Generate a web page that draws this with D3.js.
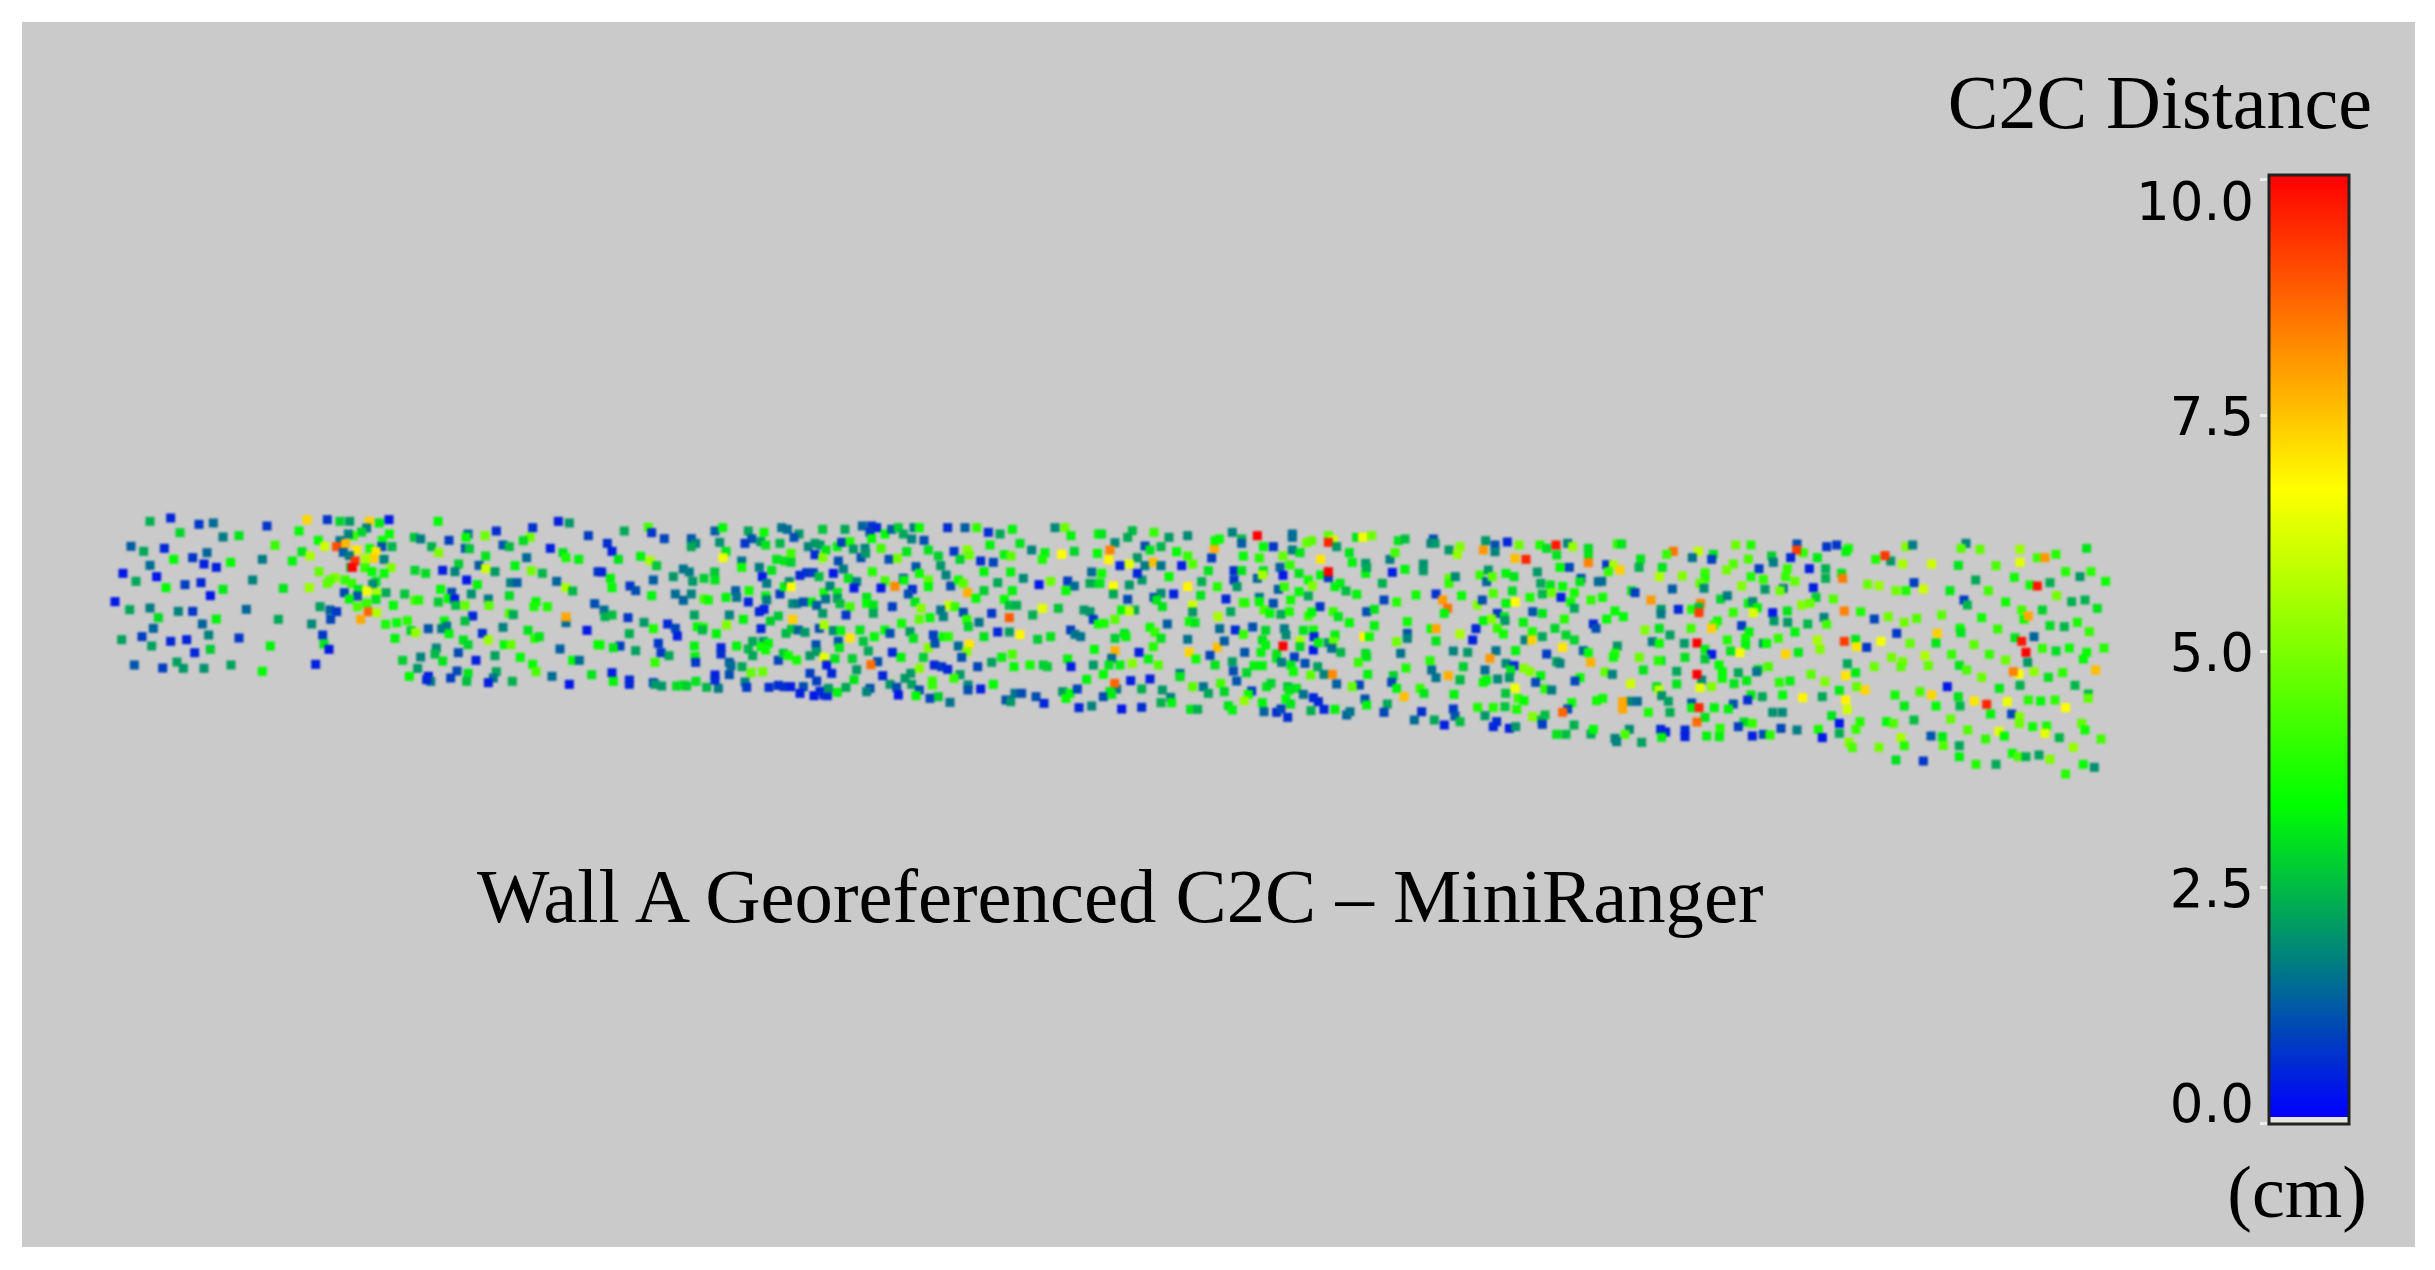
<!DOCTYPE html>
<html>
<head>
<meta charset="utf-8">
<script src="https://cdn.jsdelivr.net/npm/d3@7"></script>
<style>
  html, body { margin: 0; padding: 0; background: #fff; }
  svg { display: block; }
</style>
</head>
<body>
<script>
// Each point is [along, up, C2C in cm], one list per stretch of wall
var wallSeg1 = [[150,64,2.3],[212,54,0.5],[297,73,0.7],[340,69,1.4],[240,98,2.8],[369,111,1.6],[417,107,3],[501,78,0.7],[93,139,1.2],[131,154,2.2],[193,145,0.5],[321,158,1.3],[278,173,0.7],[221,178,3.3],[312,192,0.4],[349,202,0.4],[392,187,3.3],[487,178,1.6],[150,196,1.4],[69,220,0.3],[170,230,0.3],[108,244,2.2],[303,248,0.5],[255,254,0.8],[198,263,3.3],[369,268,3.1],[331,287,0.3],[458,240,1.7],[45,305,0.3],[89,329,2.2],[150,324,1.6],[235,334,1.7],[278,334,0.7],[439,328,1.3],[175,353,2.9],[349,357,3.2],[535,358,2.2],[307,372,1.3],[160,385,1.3],[126,410,0.8],[65,419,2.1],[326,405,1.7],[417,414,0.7],[212,424,0.5],[260,419,0.4],[155,438,2.1],[331,448,2.7],[284,458,0.5],[511,438,3.2],[103,495,1.1],[188,504,0.8],[231,486,2.1],[250,505,2],[312,505,1.9],[393,495,2.1],[487,514,3.3],
[621,59,7.2],[682,59,0.7],[720,64,2.8],[749,64,2],[808,64,7.3],[838,69,3.1],[867,59,0.3],[597,93,3.3],[525,136,4],[655,121,3.4],[800,84,1.6],[785,96,2.8],[760,107,4],[745,102,1.7],[868,102,3.4],[847,121,3.4],[720,122,1.5],[737,131,7.6],[710,140,9],[674,139,6],[770,150,7],[606,155,3],[630,168,5.5],[577,183,3.2],[730,157,1.2],[748,167,1.6],[845,140,1],[876,140,2.4],[810,145,3.6],[828,155,7],[820,175,7.3],[797,175,5.5],[852,178,1.7],[765,183,9.3],[752,202,2.5],[757,202,10],[795,203,4],[873,203,5],[816,215,3.3],[852,220,3.4],[657,215,4.6],[705,233,5],[690,240,4.5],[682,250,4.5],[735,240,4],[828,245,3],[818,252,1.8],[755,250,4],[628,263,5.3],[550,265,3],[733,278,0.9],[775,268,3],[858,278,2.2],[800,273,6.5],[830,278,5.5],[772,288,1],[748,297,3.2],[800,310,4],[828,298,3],[660,320,2.1],[690,330,1.2],[710,335,0.7],[772,320,4.3],[880,316,3.3],[805,335,8.7],[830,338,5.6],[692,358,0.9],[782,358,7.8],[635,372,1.8],[668,405,0.7],[672,432,3],[687,448,0.3],[647,493,0.4],
[1014,64,3.3],[943,112,2.6],[962,117,1.6],[995,140,2.3],[1016,158,5],[1047,121,0.8],[1104,102,1.3],[1098,112,3.3],[1189,93,0.6],[1155,107,4.8],[1298,83,0.6],[1375,64,0.4],[1408,69,2],[1465,107,0.8],[1290,112,4.7],[1270,122,2.9],[1209,135,1.1],[1228,140,2.5],[1096,145,1.1],[1108,146,2.6],[1351,145,0.4],[1389,158,3],[1398,173,3.6],[1436,178,3.2],[1157,168,3],[1280,173,1.4],[1076,192,2.7],[1137,196,1.2],[1157,206,6],[1185,215,2],[1245,197,3.2],[1294,212,4.8],[1327,220,2.4],[1494,215,0.7],[945,211,2.8],[977,220,2.9],[1028,211,0.4],[1065,215,1.7],[1100,240,0.3],[1132,254,3.2],[1232,248,1.7],[1251,248,1.2],[1370,244,1.3],[1398,263,5.5],[1418,273,2.4],[1022,268,3.3],[1055,277,1],[914,282,2.6],[1114,282,1.9],[945,301,4.2],[956,300,3.7],[1015,306,2.7],[1045,296,3.3],[1064,297,0.3],[1165,297,1.6],[1228,287,2.9],[1067,316,2.5],[1095,316,4.6],[1167,316,4.5],[1308,305,3.3],[1302,320,3.6],[1342,320,3.7],[1484,311,1],[1118,348,0.5],[1228,340,4.3],[1240,344,2.2],[1398,368,1.4],[1398,351,7.8],[1033,363,3.3],[1095,363,2.5],[922,362,3.8],[857,373,3.6],[890,368,3.4],[985,386,1.1],[1025,386,1.6],[1040,378,1.5],[1209,382,1.7],[1284,391,3],[1461,391,0.3],[933,392,2.8],[947,398,5.3],[1047,401,3.2],[1147,400,0.6],[885,415,3.2],[1090,420,3],[1165,420,5.3],[1104,434,2.8],[1213,434,3.3],[1233,434,4.6],[1304,415,3.8],[1318,410,3],[1494,434,3.3],[1380,447,1.2],[1009,444,1.8],[1005,462,2.4],[1075,458,1],[962,471,1.7],[1185,467,2.1],[1261,472,3.3],[1128,481,0.4],[908,481,2.7],[1028,483,3],[1418,481,3.3],[1438,481,1.4],[1298,493,3.4],[953,505,2],[1308,515,4.3],[1189,515,2.2],[1071,513,1],[1104,520,3],[928,529,3.3],[985,529,0.4],[1052,534,0.8],[1180,534,1.5],[1356,529,1.4],[1475,524,3],[992,544,1.6],[980,539,0.5],[1100,544,2.5],[1165,548,0.4],[1237,544,2.3],[1408,553,0.3]];

var wallSeg2 = [[73,93,2.2],[145,82,4.2],[155,98,0.7],[193,116,0.9],[22,130,0.6],[36,154,0.4],[55,178,3],[122,169,3.2],[150,182,5.5],[170,197,2.6],[5,216,0.5],[31,235,3.2],[36,263,3.3],[90,258,0.7],[107,272,1],[160,240,1.2],[155,287,3.2],[220,230,2],[250,207,1.5],[268,216,1.6],[278,244,2],[312,235,2.7],[344,216,2.6],[345,240,3],[226,282,1.4],[250,301,1.3],[274,282,1.7],[312,297,4.2],[325,300,3.5],[378,292,3.2],[274,116,1.1],[287,130,1.7],[274,140,2.2],[345,93,1.2],[368,83,3.3],[359,127,1.9],[378,154,3],[369,173,6.5],[445,93,2.2],[492,97,3.5],[455,116,1.1],[435,130,0.7],[482,125,2],[497,135,3],[540,130,2.4],[545,83,1.5],[562,88,1.4],[597,102,2],[582,112,1],[668,88,2.6],[735,88,2.2],[787,78,1.3],[815,78,0.7],[830,83,0.5],[810,97,0.7],[815,116,3.4],[855,102,3.3],[875,88,1.2],[895,83,2.7],[910,102,2.2],[935,117,1.7],[942,83,1.6],[958,83,3.5],[972,121,1],[1043,83,0.6],[1095,83,1.2],[1130,83,4],[1165,97,0.6],[1200,102,2.2],[1237,88,3.2],[1365,83,1.8],[1395,83,4.7],[1413,107,3.2],[1495,102,3.3],
[625,140,1.7],[645,130,2],[660,135,2],[645,164,0.5],[678,150,3],[668,173,5],[712,140,3.2],[725,127,0.8],[750,125,3.7],[760,147,2],[795,145,1.7],[783,173,1],[797,160,2],[843,145,4.2],[867,178,1],[892,175,4.8],[920,155,3],[985,150,3],[1015,168,2.7],[1062,154,0.7],[1080,178,2.8],[1102,150,5],[1108,165,4.7],[1142,183,0.6],[1180,187,0.9],[1170,135,3.2],[1260,130,3],[1213,164,3.2],[1233,168,4.5],[1295,150,1.7],[1335,158,3.2],[1327,178,3.6],[1385,163,6.7],[1423,154,2.8],[1492,160,3.3],
[425,183,1.5],[425,202,3.5],[478,202,1.6],[515,211,3],[530,178,3],[555,183,3],[573,160,4.2],[573,187,2.7],[715,183,1],[730,207,1.6],[487,230,0.3],[500,250,1.6],[600,226,0.5],[620,218,0.6],[640,218,0.8],[657,230,2.5],[700,220,0.3],[745,235,3],[770,245,1.7],[817,215,3.8],[855,243,4.2],[885,259,8.2],[910,235,0.8],[912,240,3.2],[762,264,0.3],[843,264,0.3],[937,268,0.6],[925,282,1],[948,200,1.1],[958,220,3.5],[985,240,4.5],[985,260,3.3],[1022,197,2],[1038,225,1.7],[1052,258,1],[1075,240,3.5],[1090,250,4.5],[1103,278,7.7],[1128,295,3.3],[1152,215,3.2],[1152,272,2.7],[1193,248,2.2],[1232,216,3.2],[1237,272,3.2],[1270,235,1.8],[1317,254,0.3],[1352,244,4.7],[1403,243,0.8],[1423,258,1.4],[1398,272,3.4],[1475,216,1.4],[1470,250,2.2],[1495,250,2.7],
[407,272,1.2],[410,292,1.5],[447,272,3.5],[445,306,0.5],[497,288,3.2],[500,300,1.6],[540,282,0.8],[553,260,3.2],[568,245,1.8],[573,260,6.7],[672,278,3.6],[690,258,1.7],[712,278,3.1],[712,295,2],[677,297,1.5],[800,292,3],[800,310,3.3],[820,315,3],[635,306,3.2],[578,311,1.8],[590,311,1.6],[610,306,1],[650,316,1.2],[720,311,2.5],[750,320,4.2],[945,306,3],[963,325,5],[877,320,0.8],[820,340,2.2],[738,345,0.7],[668,340,2],[1047,316,6],[1065,320,4],[1022,330,1.5],[1030,350,1.7],[1090,337,1],[1175,340,0.7],[1213,298,3.4],[1228,316,2.5],[1250,316,2.3],[1228,353,8.8],[1298,345,2.3],[1327,325,6.3],[1375,325,2.6],[1452,330,2],[1470,335,2],[1480,358,0.7],[1495,372,3.5],
[12,330,1.4],[15,350,2.3],[36,345,2.5],[84,353,0.7],[132,367,2],[160,386,3.7],[203,372,0.5],[226,385,0.9],[232,408,0.4],[283,345,2.1],[292,380,3.3],[310,382,3.7],[307,390,2.4],[349,401,3.2],[380,375,5],[388,345,1.7],[430,358,3.2],[478,335,0.5],[492,328,0.4],[511,363,2.7],[535,348,2.6],[578,358,7.3],[483,386,0.5],[88,401,2.3],[175,430,0.7],[183,458,0.7],[207,467,2.2],[107,452,2.1],[60,438,0.8],[40,443,3],[0,435,3.4],[283,438,3.2],[285,470,3.2],[287,487,0.7],[165,487,4],[363,443,0.5],[363,462,0.6],[410,438,3.2],[445,447,2.4],[458,424,2.2],[458,467,2.2],[490,424,2],[483,440,3.5],[505,430,3.2],[497,450,3.5],[388,487,1.2],[393,497,1.4],[426,500,2.2],[535,481,0.9],[550,460,2.6],[565,467,3.5],[590,480,3.6],[630,467,2],[648,434,1],[650,455,2],[672,472,6.3],[680,495,0.4],[695,520,0.5],[558,400,2.4],[575,388,2.6],[595,390,1.3],[615,397,2],[658,385,1],[672,375,5.5],[700,392,1.8],[722,392,3.2],[750,414,7],[780,390,3],[790,424,2.6],[805,453,2.2],[715,424,1],[718,443,3],[705,476,3],[757,476,2.7],[823,410,3.3],[855,390,3.3],[870,400,1],[905,370,3.5],[930,395,2],[940,415,3],[877,457,0.5],[903,472,3.2],[970,472,2.7],[985,443,5],[958,358,4.5],[990,353,3.3],[1000,405,0.8],[1005,430,1],[1030,410,3.3],[1045,410,3.8],[1075,438,1.4],[1108,433,7],[1100,455,5],[1100,358,3.8],[1105,380,2.8],[1137,367,1.5],[1085,472,1],[1152,410,3],[1193,396,0.5],[1228,396,2.1],[1260,404,6.8],[1313,418,2.7],[1352,410,3],[1412,390,0.8],[1425,403,1.5],[1442,410,1.5],[1483,448,3.3],[1237,463,4.3],[1205,472,3.2],[1175,487,2.1],[1133,500,0.9],[1242,500,3.3],[1290,495,3.5],[1330,495,2.7],[1342,500,2.7],[1403,477,3.2],[1413,500,0.4],[1480,495,2],[833,485,1],[813,494,8.6],[36,518,0.4],[40,544,3.2],[88,540,0.5],[88,553,0.5],[160,548,0.7],[165,553,2],[185,558,2],[230,558,2.9],[250,555,3],[260,558,2.7],[288,544,3],[320,562,2.4],[355,565,1.6],[345,525,0.4],[345,540,0.5],[388,524,1],[435,546,1.7],[440,562,0.7],[453,518,4.6],[488,515,4.7],[507,562,0.6],[535,556,0.6],[552,560,0.6],[572,560,0.4],[610,560,1],[600,580,0.4],[630,520,0.8],[650,543,0.8],[642,587,0.3],[660,574,0.5],[672,585,0.5],[682,587,0.5],[685,565,2],[712,577,3.2],[738,562,2.2],[762,539,3],[770,509,2],[848,527,0.5],[810,565,1],[800,575,1.7],[870,553,2],[890,562,1],[895,585,0.3],[915,535,2],[932,520,2],[935,553,2.1],[958,570,1],[948,587,3.3],[958,505,5],[997,543,4],[997,555,4],[990,595,0.9],[1015,590,2.7],[1003,495,0.5],[1025,500,0.7],[1043,508,0.5],[1080,524,2],[1062,535,4],[1104,555,1.8],[1104,570,1],[1142,567,0.4],[1050,607,1.5],[1180,553,3.3],[1218,600,1],[1232,605,2],[1245,580,1.5],[1265,580,1],[1308,590,1],[1332,610,0.5],[1388,575,2],[1410,580,3.3],[1398,595,3.4],[1432,567,0.9],[1437,623,0.5],[1475,618,1.7],[1460,538,3.2]];

var wallSeg3 = [[5,72,3],[97,62,2.5],[83,82,2.2],[45,98,1.8],[162,67,4],[207,82,2],[263,77,1.8],[30,120,8.3],[135,108,1],[150,120,3],[183,110,2.4],[230,125,3.3],[263,138,4],[278,162,4.4],[112,143,2],[26,149,6.8],[60,167,0.5],[88,162,6.3],[135,167,1.6],[160,157,7.5],[183,167,1.5],[245,167,0.4],[335,144,0.8],[343,116,7.7],[345,92,3.4],[358,87,3.4],[397,67,1.7],[425,87,2.4],[425,100,1.2],[472,77,10],[520,110,0.7],[490,110,3.3],[577,72,1.4],[577,82,1.4],[577,120,1.6],[600,128,3],[620,98,4.7],[635,92,4.5],[685,77,4.5],[700,90,6],[685,97,9.5],[710,110,2],[770,82,3],[788,82,6.5],[815,77,4.8],[895,92,3],[915,87,2.5],[1000,87,1],[993,100,1.7],[1005,100,2],[1047,120,2],[1080,110,5],[1072,133,5.3],[1150,120,8],[1157,92,2],[1185,105,1],[1185,125,1.7],[1222,96,0.5],[1257,105,4.7],[1320,105,3.7],[1340,115,2.9],[1368,105,9.7],[1403,100,1.7],[1418,110,5.3],[1465,115,2.9],[1465,135,3],[1465,158,8.3],[1245,145,7.5],[1278,148,9.5],
[325,182,3],[305,215,2.3],[352,230,3.8],[402,182,0.6],[425,182,3],[430,138,3.3],[478,144,3.8],[490,182,3],[472,205,1.3],[487,195,5.5],[402,210,0.7],[411,230,2],[207,200,3.3],[126,210,2],[112,190,0.5],[88,225,2],[40,228,6.7],[5,190,3.5],[0,220,3],[263,230,6.8],[40,252,2.2],[83,268,1],[162,262,1],[183,250,1.8],[221,252,0.4],[170,270,3],[187,290,3],[302,256,3],[378,267,0.5],[430,278,4],[478,262,1.5],[478,275,3.3],[520,280,1],[535,238,1.2],[540,172,1.3],[549,138,4.6],[570,165,4],[549,196,0.3],[597,190,3],[625,210,3.5],[637,228,5],[662,148,7],[662,195,3.2],[685,203,0.7],[685,185,10],[720,220,3.1],[705,230,3.2],[738,243,2.5],[770,253,3.2],[748,128,3],[757,157,3.2],[797,160,2],[797,190,3.2],[800,172,2.2],[847,220,2.3],[870,148,1.6],[877,187,0.4],[885,128,4.2],[915,178,3.2],[970,162,1.9],[970,182,2],[553,230,4],[597,245,3.3],[625,258,2.2],[572,270,3.5],[660,290,0.7],[700,305,4],[852,270,0.9],[890,276,3.8],[948,255,3.5],[1008,252,0.6],[1028,270,8],[1043,295,8.5],[1033,310,3.2],[1085,257,3.4],[1047,205,4.5],[1047,220,4],[1066,200,1.8],[1132,285,5],[1147,270,1],[1140,195,4],[1165,180,2],[1160,215,1.3],[1177,200,4.5],[1180,250,4.3],[1218,190,3.2],[1242,200,3],[1237,243,2.9],[1218,280,3.2],[1246,276,6.7],[1290,262,3.6],[1312,186,2],[1322,220,2.2],[1351,225,3],[1327,252,2.4],[1355,248,4.7],[1388,229,3.4],[1408,172,0.9],[1380,172,3.3],[1370,135,3],[1443,205,1],[1440,215,3],[1495,215,1.4],[1423,248,3.6],[1383,262,0.4],[1412,276,3.5],[1423,295,2.2],[1473,270,3.9],[1298,305,1.1],[1327,310,3],[1192,310,0.7],[1213,320,3],
[65,300,3.3],[104,300,2.2],[88,303,5.8],[278,285,6],[278,306,2],[45,328,4.5],[12,340,3.6],[202,342,1.2],[268,335,3.5],[285,338,3],[354,320,5.5],[392,305,2.2],[435,278,3.8],[492,300,4.2],[510,310,3.3],[543,313,2.2],[568,305,3.7],[625,318,4],[635,306,3.3],[715,320,3],[748,338,3.3],[800,305,1],[823,298,3],[823,347,3.2],[922,335,3.5],[150,352,3.5],[165,367,4],[183,385,3],[45,385,2.7],[73,370,3],[78,380,3.2],[263,388,1.5],[359,356,1.4],[406,360,0.5],[430,373,4],[458,351,1],[497,361,2.8],[553,356,1.6],[558,375,1.8],[610,361,3],[640,360,3.5],[642,380,0.4],[705,375,3.2],[792,380,6.8],[808,380,3.5],[922,370,1.1],[922,385,1.7],[993,356,3.5],[1008,356,7.8],[1128,356,0.5],[1118,390,0.4],[1080,372,5.5],[1150,332,3.2],[1175,327,5],[1215,332,2],[1192,355,4],[1210,372,3.5],[1270,337,3.2],[1297,365,3.7],[1275,390,1.7],[1295,390,7.3],[1327,380,2.2],[1365,355,2.8],[1393,327,3.8],[1398,375,2.8],[1423,390,2.8],[1480,342,0.5],[1488,355,1],
[45,422,7.7],[117,427,0.4],[35,445,1.4],[160,410,3.8],[145,447,3.2],[352,412,7.5],[268,427,7.2],[288,447,3.5],[330,436,0.9],[373,393,1.2],[434,427,1.1],[487,390,3],[497,405,3.2],[483,427,3.2],[530,432,3],[549,408,10],[600,393,5.5],[600,410,2.8],[640,420,0.3],[655,398,3.2],[685,398,2],[700,395,4.6],[695,415,1.4],[722,427,2.4],[583,441,0.8],[797,430,2.9],[800,440,3],[890,395,4.8],[902,430,1.5],[1008,393,3],[1060,423,1.7],[1103,427,2],[1188,422,1.5],[1170,445,8],[1247,422,3.2],[1340,432,0.8],[1388,412,7],[1450,422,1.3],[1465,428,3.4],[1472,457,7.7],[27,465,3],[60,465,3.2],[97,460,5],[175,465,4.4],[345,465,3],[397,455,2.1],[462,467,3.2],[487,467,3.2],[530,445,3],[545,457,1.6],[573,465,3],[580,485,3.5],[615,460,1],[653,470,2.1],[775,457,4],[918,474,3.7],[990,452,3.8],[1090,470,2.7],[1218,460,1.8],[1242,467,0.5],[1232,480,3],[1272,475,5],[1290,485,5],[1370,455,2.2],[1380,460,1.7],[10,493,3.4],[240,490,1.5],[240,500,3],[440,488,2.8],[400,483,1],[632,495,4.5],[672,493,1.7],[697,493,8.2],[803,493,3.2],[880,497,2.8],[995,480,1.4],[1008,503,1.5],[1045,497,7.7],[1080,508,4],[1155,480,1.4],[1228,503,2],[1322,497,3.2],[1440,503,3.4],[1425,513,0.9],[50,537,1.5],[44,520,8.7],[92,512,0.4],[150,507,0.4],[410,513,1.1],[500,530,3],[513,520,2.8],[362,520,4.2],[278,530,4.5],[310,530,1.5],[125,537,2.3],[30,545,3.1],[187,540,2],[325,550,2.2],[373,545,2.8],[455,543,0.7],[563,530,2.6],[568,540,3],[590,535,3],[610,553,1.5],[710,522,1.2],[778,525,0.9],[757,530,4.6],[875,517,0.9],[890,535,3.2],[960,535,4],[972,550,3],[1080,510,2.4],[1150,517,3.4],[1160,510,3.2],[1193,507,1.8],[1245,535,6.5],[1217,550,2.6],[1307,517,1],[1335,537,3.8],[1355,540,1.6],[10,560,1],[35,553,3.1],[212,562,1.7],[183,578,2.3],[215,578,3.2],[445,553,3.5],[433,572,5.2],[640,563,0.5],[655,575,0.5],[558,567,3.3],[572,582,3],[487,578,3.2],[795,567,1],[800,585,3.2],[862,582,2.2],[912,560,7.5],[1062,553,3.2],[1255,565,4],[1272,572,3.4],[1490,572,3.5],[1415,578,3.5],
[65,597,0.3],[125,592,0.6],[272,598,3],[293,598,2.3],[385,587,3],[397,600,3.2],[492,605,1.3],[530,607,0.6],[543,597,0.9],[563,622,0.6],[633,602,2.3],[672,598,0.5],[705,598,3.2],[740,615,1.3],[750,605,1.5],[852,607,0.9],[965,605,0.6],[943,630,1.4],[1003,630,2.2],[1033,645,0.4],[1060,597,0.7],[1065,618,1.1],[1080,635,2.5],[1133,592,3.7],[1180,592,3.8],[1215,590,2.6],[1250,598,3.7],[1155,617,2],[1190,635,0.6],[1180,650,0.5],[1228,655,0.4],[1247,650,2],[1298,620,5],[1335,615,2.5],[1325,630,2.4],[1327,643,0.8],[1403,597,1],[1388,607,8.7],[1422,645,2.3],[1370,673,3],[1398,673,2.5],[1473,672,2.2],[1480,658,3.3]];

var wallSeg4 = [[52,72,3.9],[65,72,3],[220,94,8.5],[295,94,5.8],[277,113,1.5],[340,103,3],[335,118,0.8],[200,103,4],[122,117,3],[117,142,2.3],[20,134,0.7],[40,135,5.5],[60,150,7.3],[25,155,4],[187,142,3],[178,170,5.6],[247,168,5],[5,184,1.4],[407,75,4.7],[453,75,3.8],[591,72,1],[610,98,4],[590,90,9.2],[680,80,0.7],[710,75,0.7],[745,85,3.6],[738,95,3.2],[515,108,2.7],[572,113,0.5],[520,127,1.6],[652,113,3.1],[445,117,4.3],[400,132,4.4],[380,150,4.8],[477,146,0.8],[628,146,0.4],[677,146,2.3],[562,146,4],[315,158,4],[315,175,3.8],[453,170,3.7],[557,170,4],[677,175,2.3],[725,160,3],[728,175,8.4],[490,178,4],[585,184,4.6],[300,190,4.5],[312,205,1.8],[425,198,5],[495,208,2],[217,207,1.2],[95,212,3],[105,218,0.8],[8,232,3.5],[550,205,1.7],[540,212,4.8],[640,203,0.4],[648,232,2.7],[700,237,4.4],[153,240,8],[302,250,8.3],[362,237,2.8],[382,227,1.6],[445,250,3.2],[458,245,1.8],[472,263,3.2],[605,255,5],[630,250,4.7],[183,268,2],[183,282,1.6],[235,268,0.5],[275,268,3.7],[297,262,2.5],[297,278,9.2],[45,273,3.3],[20,297,3.3],[70,290,3.3],[400,277,4],[460,278,6.2],[518,278,0.3],[562,273,3],[733,273,8.3],[782,275,3.7],[672,292,1.7],[522,303,2],[563,307,2],[623,312,2.4],[680,313,4.2],[352,303,3.5],[342,315,4],[335,325,7.3],[425,317,0.8],[135,330,5],[178,325,3],[273,325,4.2],[447,336,3.2],[585,336,3.2],[210,345,2.1],[157,365,1.6],[178,370,3.5],[253,370,2],[291,369,10],[382,360,3.7],[437,355,3.5],[437,375,3.2],[490,370,2],[500,370,3.4],[535,355,4],[652,360,5.5],[660,388,5],[767,358,3],[733,364,9.2],[770,380,7],[800,382,0.7],[843,364,6.5],[52,378,2],[45,400,3.8],[40,412,3.5],[315,388,3.1],[335,403,0.3],[392,393,3],[420,398,6.5],[557,402,7.2],[595,397,3.1],[118,412,4.7],[183,422,3],[175,422,3.8],[255,412,3],[315,417,2.6],[357,435,3.3],[505,440,4.3],[742,431,2.2],[823,440,4.7],[130,450,3],[15,456,4.6],[37,463,1.7],[230,454,2.2],[305,480,1.8],[291,463,10],[367,455,3.3],[367,475,3.4],[415,458,2.2],[475,448,3],[470,455,1.5],[633,463,4.5],[737,467,7],[767,458,3.1],[92,491,6],[170,500,3],[177,510,5.8],[230,492,3],[300,503,6.3],[335,500,5],[402,491,3],[440,482,3.1],[538,487,3.8],[570,483,3.2],[675,485,5],[770,500,4.6],[795,510,7.2],[718,511,3.1],[8,535,3.5],[88,544,1.7],[112,544,1.4],[68,545,7.8],[68,567,7.8],[185,527,1.9],[205,544,2.1],[275,549,1],[453,525,3.1],[443,540,0.6],[487,530,2.2],[548,525,3.3],[608,533,6.8],[667,530,2.2],[737,540,6.8],[742,569,6],[400,552,1.1],[145,577,3.7],[210,577,2.3],[275,563,3.2],[297,563,9.5],[343,563,3.2],[385,567,3.2],[518,577,1.9],[547,577,1.8],[695,587,3],[718,610,0.3],[780,605,3.8],[768,628,4],[315,592,3],[291,606,8.6],[432,606,2.9],[457,610,4],[415,620,0.8],[88,628,1.8],[75,643,4.3],[182,628,0.5],[197,636,0.5],[185,652,3.2],[255,630,0.5],[255,650,0.4],[360,625,3.8],[358,650,3.2],[320,648,3.2],[543,625,0.9],[591,630,1.6],[655,628,3.6],[718,640,2.3],[457,648,0.4],[490,643,1],[510,645,3.8],[667,653,0.3],[45,655,1.7],[50,665,1.7],[125,667,2.1],[747,667,5],[757,683,4.3],
[872,123,2],[855,107,9.3],[827,118,3.8],[908,132,5.5],[918,80,5],[938,75,1.6],[995,132,6],[1075,136,3],[1098,70,1.7],[1083,85,4.5],[1140,88,4.6],[1260,88,5.3],[1312,113,4.2],[1335,113,8],[1368,103,3.8],[1460,85,3],[1260,127,6.3],[1188,137,4.3],[1397,155,3.8],[1473,155,3.9],[1440,170,2],[1517,184,3.5],[1243,172,3.5],[1127,180,2.2],[1290,195,3.5],[1312,198,9.7],[1350,188,2.3],[942,188,0.8],[970,207,6],[803,193,4.7],[837,197,5.3],[888,212,4.8],[918,212,3.7],[1050,212,3.1],[1165,212,4.2],[1370,227,4.8],[1415,245,2.3],[1455,240,2.3],[1492,265,3],[1092,240,0.7],[1102,255,2.4],[1217,246,3.5],[1265,270,4.2],[1327,270,2.8],[1272,298,3.5],[1285,288,7.8],[1145,293,3.5],[1025,285,4.5],[865,290,4.8],[950,295,4.4],[823,297,0.9],[913,307,4.8],[1432,307,3.6],[1350,317,2.9],[1393,320,2.4],[1080,325,3.4],[1083,338,3],[1193,327,4],[1468,335,4],[890,340,0.7],[1012,340,7.3],[1302,350,1.3],[1245,353,3],[1265,364,9.7],[930,370,4.6],[1008,369,3],[1122,374,4.5],[1327,385,4],[1368,393,2.9],[1408,384,3.5],[1512,384,3.8],[1278,397,10],[1460,397,3.4],[1450,417,3.3],[875,412,4.8],[908,425,4.8],[903,440,4.5],[975,407,5.6],[1055,403,4],[1168,403,4],[1217,420,4.7],[1078,436,3],[1100,450,4.3],[985,437,4.6],[1283,427,2],[1302,455,5.2],[1257,462,6.6],[1240,455,8.3],[1345,472,3],[1388,458,3.9],[1487,450,7.5],[1145,472,4.7],[1042,500,0.3],[1198,505,3.1],[1260,496,2.3],[1425,496,2.4],[960,515,4.3],[885,525,3.5],[995,525,7.2],[1075,530,3],[1123,543,7],[1160,553,9.5],[1222,545,6.4],[1285,540,3.8],[1322,543,3.3],[1365,540,3.9],[1397,563,6.7],[1465,522,2.5],[1465,535,4.6],[913,558,3.1],[1008,558,3.3],[1080,558,2.4],[1172,582,3.2],[1235,582,0.9],[1258,590,5],[1258,610,4.7],[860,605,3.3],[880,610,4.3],[942,600,2.5],[1052,597,4.6],[1298,620,3.5],[1340,618,3.6],[1445,610,4.6],[1455,630,3.5],[1103,630,4.4],[1197,634,6.3],[1213,648,3.3],[1335,640,6.3],[1378,653,2.4],[1503,657,4.2],[993,648,1.1],[1027,650,3.1],[903,653,5.5],[913,677,3.8],[1157,657,3.9],[1030,677,4.4],[837,682,4.8],[1078,677,2.2],[1420,682,5.3],[888,720,2.9],[970,723,0.7],[1078,710,3.2],[1128,733,3.8],[1188,733,2.2],[1237,700,3.4],[1255,710,4.3],[1278,710,2.3],[1317,705,2.1],[1350,718,5],[1450,733,3.4],[1483,742,1.9],[1397,762,3.8]];

var colorStops = [0, 3.33, 6.67, 10];
var colorRange = ["#0000ff", "#00ff00", "#ffff00", "#ff0000"];
var legendTicks = [0, 2.5, 5, 7.5, 10];

var W = 2435;
var H = 1270;

var svg = d3.select("body").
append("svg").
attr("width", W).
attr("height", H);

svg.append("rect").
attr("x", 22).
attr("y", 22).
attr("width", 2393).
attr("height", 1225).
attr("fill", "#cacaca");

var color = d3.scaleLinear().
domain(colorStops).
range(colorRange);

// one pair of scales per stretch of wall
var segments = [
  {points: wallSeg1, left: 100, top: 500, span: 1500, rise: 600},
  {points: wallSeg2, left: 600, top: 500, span: 1500, rise: 690},
  {points: wallSeg3, left: 1100, top: 510, span: 1500, rise: 720},
  {points: wallSeg4, left: 1600, top: 520, span: 1560, rise: 780}];

var cloud = svg.append("g").
style("filter", "blur(0.9px)");

segments.forEach(function (seg) {
  var x = d3.scaleLinear().domain([0, seg.span]).range([seg.left, seg.left + seg.span / 3]);
  var y = d3.scaleLinear().domain([0, seg.rise]).range([seg.top, seg.top + seg.rise / 3]);

  cloud.append("g").
  selectAll("rect").
  data(seg.points).
  enter().append("rect").
  attr("x", function (d) {return x(d[0]) - 4.5;}).
  attr("y", function (d) {return y(d[1]) - 4.5;}).
  attr("width", 9).
  attr("height", 9).
  attr("fill", function (d) {return color(d[2]);});
});

// colour bar
var barScale = d3.scaleLinear().
domain([0, 10]).
range([1123, 179]);

var defs = svg.append("defs");
var grad = defs.append("linearGradient").
attr("id", "c2c").
attr("x1", 0).attr("x2", 0).attr("y1", 1).attr("y2", 0);

grad.selectAll("stop").
data(colorStops).
enter().append("stop").
attr("offset", function (d) {return d / 10;}).
attr("stop-color", function (d) {return color(d);});

svg.append("rect").
attr("x", 2269).
attr("y", 175).
attr("width", 80).
attr("height", 949).
attr("fill", "#e6e6dc");

svg.append("rect").
attr("x", 2269).
attr("y", 175).
attr("width", 80).
attr("height", 942).
attr("fill", "url(#c2c)");

svg.append("rect").
attr("x", 2269).
attr("y", 175).
attr("width", 80).
attr("height", 949).
attr("fill", "none").
attr("stroke", "#222").
attr("stroke-width", 3);

var axis = svg.append("g").
attr("transform", "translate(2267,0)").
call(d3.axisLeft(barScale).
tickValues(legendTicks).
tickSize(7).
tickPadding(6).
tickFormat(d3.format(".1f")));

axis.select(".domain").remove();
axis.selectAll("line").attr("stroke", "#ececec").attr("stroke-width", 3);
axis.selectAll("text").
attr("fill", "#000").
style("font-family", "'DejaVu Sans'").
style("font-size", "53px").
style("filter", "blur(0.5px)").
attr("y", function (d) {return d === 10 ? 24 : d === 0 ? -18 : 3;});

// labels
function label(txt, x, y, anchor, size) {
  svg.append("text").
  attr("x", x).
  attr("y", y).
  attr("text-anchor", anchor).
  style("font-family", "'Liberation Serif'").
  style("font-size", size + "px").
  style("filter", "blur(0.5px)").
  attr("fill", "#000").
  text(txt);
}

label("C2C Distance", 2372, 128, "end", 76);
label("Wall A Georeferenced C2C – MiniRanger", 477, 922, "start", 76.7);
label("(cm)", 2367, 1217, "end", 74);
</script>
</body>
</html>
